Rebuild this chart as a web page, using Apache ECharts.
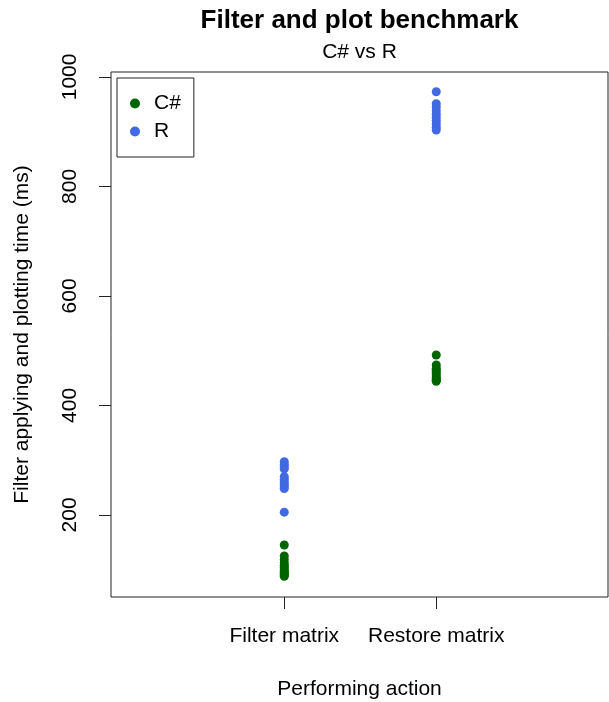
<!DOCTYPE html>
<html>
<head>
<meta charset="utf-8">
<script src="https://cdn.jsdelivr.net/npm/echarts@6/dist/echarts.min.js"></script>
<style>html,body{margin:0;padding:0;background:#fff;}#c{width:609px;height:702px;}</style>
</head>
<body>
<div id="c"></div>
<script>
const categories = ["Filter matrix", "Restore matrix"];
const seriesNames = ["C#", "R"];
const filterCSharp = [145, 125, 118, 112, 108, 104, 100, 97, 94, 92, 90, 88];
const filterR = [297, 292, 288, 284, 270, 265, 260, 256, 252, 248, 205];
const restoreCSharp = [492, 474, 468, 464, 460, 456, 452, 449, 446, 444];
const restoreR = [973, 951, 945, 938, 932, 926, 920, 914, 908, 903];
const yTicks = [200, 400, 600, 800, 1000];
const xTicks = [1, 2];

function pts(pos, vals) { return vals.map(v => [pos, v]); }

const font = "'Liberation Sans', Arial, sans-serif";
const chart = echarts.init(document.getElementById('c'));
chart.setOption({
  animation: false,
  backgroundColor: '#fff',
  textStyle: { fontFamily: font },
  graphic: [
    { type: 'text', style: { x: 359.5, y: 21, text: 'Filter and plot benchmark', align: 'center', verticalAlign: 'middle', font: 'bold 26px ' + font, fill: '#000' } },
    { type: 'text', style: { x: 359.5, y: 52, text: 'C# vs R', align: 'center', verticalAlign: 'middle', font: '21px ' + font, fill: '#000' } }
  ],
  grid: { left: 111, right: 1, top: 72, bottom: 105, show: true, borderColor: '#222', borderWidth: 1, backgroundColor: 'transparent', containLabel: false, outerBoundsMode: 'none' },
  legend: {
    orient: 'vertical', left: 117, top: 78,
    data: seriesNames,
    icon: 'circle', itemWidth: 10, itemHeight: 10, itemGap: 7,
    borderColor: '#222', borderWidth: 1, borderRadius: 0,
    padding: [15, 13, 15, 13],
    textStyle: { fontSize: 21, color: '#000', fontFamily: font, padding: [0, 0, 0, 9] }
  },
  xAxis: {
    type: 'value', min: -0.14, max: 3.13,
    name: 'Performing action', nameLocation: 'middle', nameGap: 82,
    nameTextStyle: { fontSize: 21, color: '#000', fontFamily: font },
    splitLine: { show: false },
    axisLine: { show: false, onZero: false },
    axisTick: { show: true, customValues: xTicks, length: 12, inside: false, lineStyle: { color: '#222', width: 1 } },
    axisLabel: { customValues: xTicks, formatter: v => categories[Math.round(v) - 1] || '', fontSize: 21, color: '#000', margin: 29, fontFamily: font }
  },
  yAxis: {
    type: 'value', min: 50, max: 1009,
    name: 'Filter applying and plotting time (ms)', nameLocation: 'middle', nameGap: 78,
    nameTextStyle: { fontSize: 21, color: '#000', fontFamily: font },
    splitLine: { show: false },
    axisLine: { show: false, onZero: false },
    axisTick: { show: true, customValues: yTicks, length: 12, inside: false, lineStyle: { color: '#222', width: 1 } },
    axisLabel: { customValues: yTicks, formatter: v => String(v), rotate: 90, fontSize: 21, color: '#000', margin: 30, fontFamily: font }
  },
  series: [
    { name: 'C#', type: 'scatter', symbol: 'circle', symbolSize: 9, itemStyle: { color: '#006400', opacity: 1 },
      data: pts(1, filterCSharp).concat(pts(2, restoreCSharp)) },
    { name: 'R', type: 'scatter', symbol: 'circle', symbolSize: 9, itemStyle: { color: '#4169E1', opacity: 1 },
      data: pts(1, filterR).concat(pts(2, restoreR)) }
  ]
});
</script>
</body>
</html>
